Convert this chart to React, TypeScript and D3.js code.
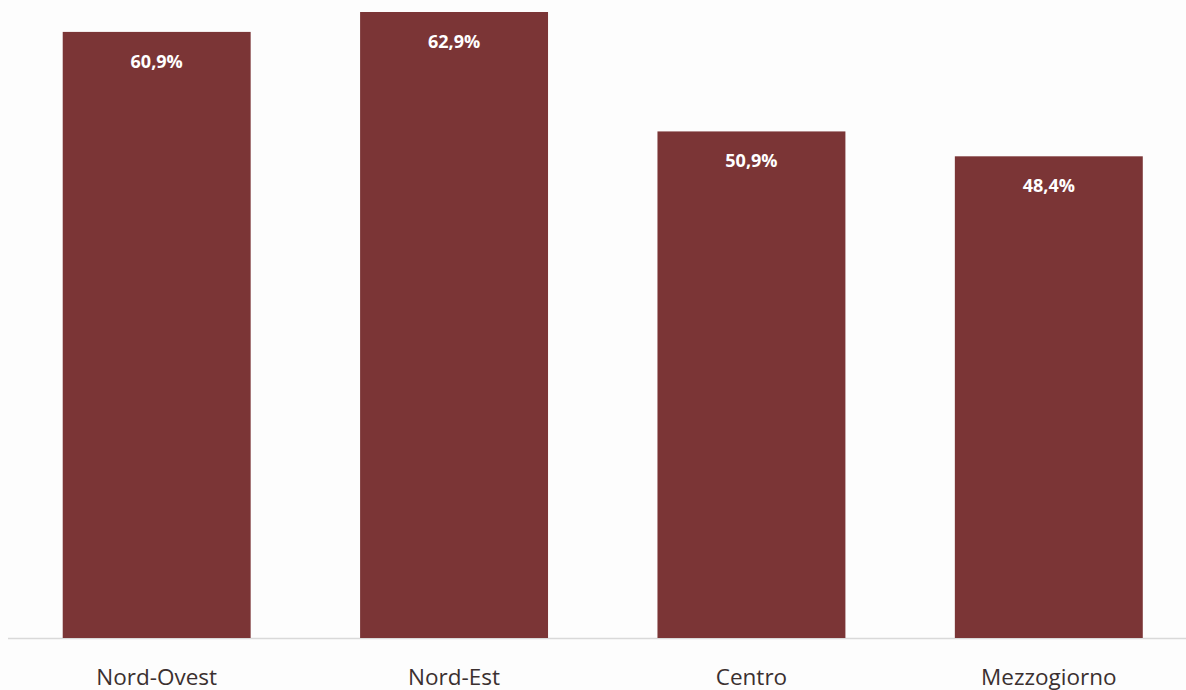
import React from "react";
import * as d3 from "d3";

const categories = ["Nord-Ovest", "Nord-Est", "Centro", "Mezzogiorno"];
const values = [60.9, 62.9, 50.9, 48.4];
const valueLabels = ["60,9%", "62,9%", "50,9%", "48,4%"];

const W = 1186;
const H = 690;

export default function App() {
  const x = d3
    .scaleBand<string>()
    .domain(categories)
    .range([8, 1197.5])
    .paddingInner(0.368)
    .paddingOuter(0.184);
  const y = d3.scaleLinear().domain([0, 62.9]).range([638, 12]);

  return (
    <svg
      width={W}
      height={H}
      style={{ position: "fixed", left: 0, top: 0, background: "#fdfdfd" }}
    >
      <rect x={0} y={0} width={W} height={H} fill="#fdfdfd" />
      <line x1={8} x2={W} y1={638.5} y2={638.5} stroke="#d9d9d9" strokeWidth={1.5} />
      {categories.map((c, i) => (
        <g key={c}>
          <rect
            x={x(c)}
            y={y(values[i])}
            width={x.bandwidth()}
            height={y(0) - y(values[i])}
            fill="#7b3536"
          />
          <text
            x={(x(c) as number) + x.bandwidth() / 2}
            y={y(values[i]) + 36}
            textAnchor="middle"
            fill="#ffffff"
            fontFamily="'Open Sans', sans-serif"
            fontWeight={700}
            fontSize={18}
          >
            {valueLabels[i]}
          </text>
          <text
            x={(x(c) as number) + x.bandwidth() / 2}
            y={685}
            textAnchor="middle"
            fill="#3b3030"
            fontFamily="'Open Sans', sans-serif"
            fontSize={22.5}
          >
            {c}
          </text>
        </g>
      ))}
    </svg>
  );
}
